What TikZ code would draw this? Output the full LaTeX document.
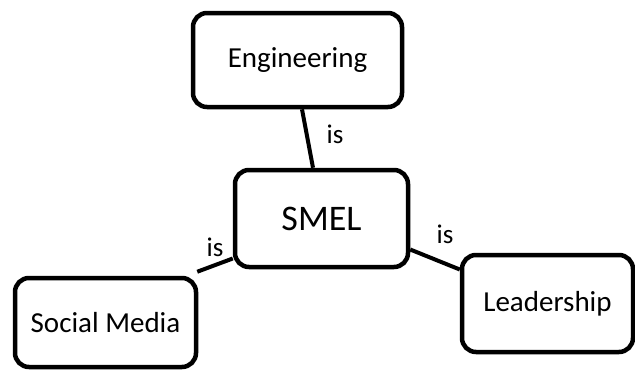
\documentclass[tikz,border=0pt]{standalone}
\usepackage{fontspec}
\setmainfont{Carlito}
\usetikzlibrary{calc}
\tikzset{
  box/.style={draw=black, line width=4.5pt, rounded corners=14pt, fill=white,
    inner sep=0pt, font=\fontsize{29}{34}\selectfont},
  conn/.style={draw=black, line width=4pt},
  lbl/.style={inner sep=0pt, font=\fontsize{27}{32}\selectfont}
}
\begin{document}
\begin{tikzpicture}[x=1pt, y=-1pt]
\useasboundingbox[fill=white] (0,0) rectangle (635,372);
\node[box, minimum width=209pt, minimum height=94pt] (eng) at (297.5,60) {Engineering};
\node[box, minimum width=173pt, minimum height=97pt, font=\fontsize{36}{42}\selectfont] (smel) at (321.5,218.5) {SMEL};
\node[box, minimum width=181pt, minimum height=89pt] (soc) at (105.5,322.5) {Social Media};
\node[box, minimum width=171pt, minimum height=97pt] (lead) at (547.5,303.5) {Leadership};
\draw[conn] ($(eng.south)+(4.5,0)$) -- ($(smel.north)+(-8.5,0)$);
\draw[conn] ($(soc.north east)+(-1,-4)$) -- ($(smel.west)+(0,40)$);
\draw[conn] ($(smel.east)+(0,31)$) -- ($(lead.west)+(0,-34)$);
\node[lbl] (l1) at (335,134) {is};
\node[lbl] (l2) at (215,247) {is};
\node[lbl] (l3) at (445,234) {is};
\end{tikzpicture}
\end{document}
